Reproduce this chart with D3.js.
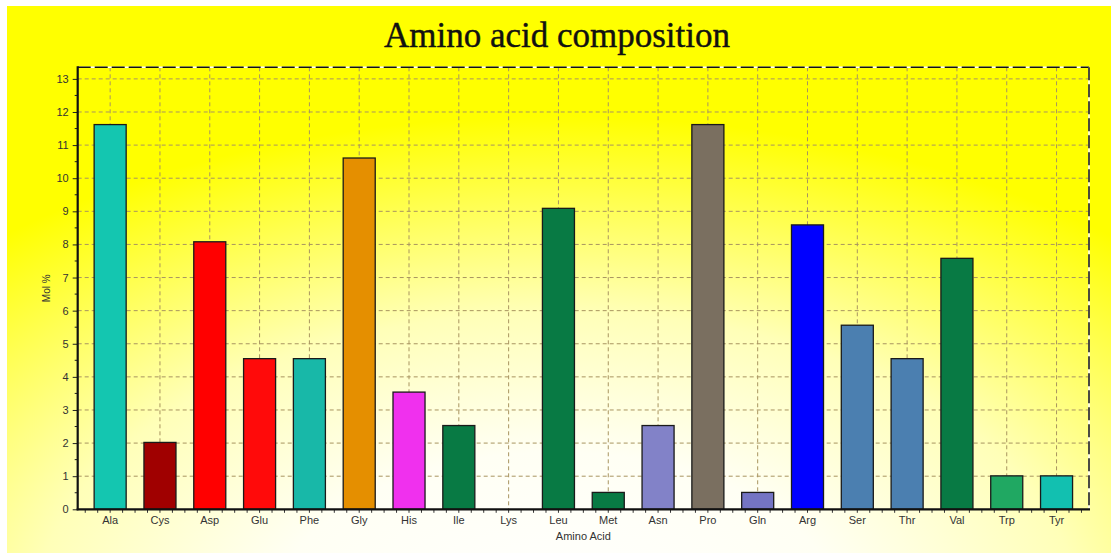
<!DOCTYPE html>
<html><head><meta charset="utf-8">
<script src="https://cdn.jsdelivr.net/npm/d3@7"></script>
<style>html,body{margin:0;padding:0;background:#fff;}svg{display:block;}</style>
</head><body>
<script>
// ---- data ----
const categories = ["Ala","Cys","Asp","Glu","Phe","Gly","His","Ile","Lys","Leu","Met","Asn","Pro","Gln","Arg","Ser","Thr","Val","Trp","Tyr"];
const molPercent = [11.62,2.02,8.08,4.55,4.55,10.61,3.54,2.53,0,9.09,0.51,2.53,11.62,0.51,8.59,5.56,4.55,7.58,1.01,1.01];
const yTickValues = [0,1,2,3,4,5,6,7,8,9,10,11,12,13];
const titleText = "Amino acid composition";
const xTitle = "Amino Acid";
const yTitle = "Mol %";
// ---- styles ----
const barColors = ["#14c6b0","#a00000","#ff0000","#ff0a0a","#18b8a8","#e58f00","#f030ee","#087a44","#087a44","#087a44","#087a44","#8282c8","#7a6f60","#7474c4","#0000ff","#4b7fb0","#4b7fb0","#087a44","#20a862","#12c0b0"];

const W = 1117, H = 559;
const svg = d3.select("body").append("svg").attr("width", W).attr("height", H);
const defs = svg.append("defs");
const grad = defs.append("radialGradient").attr("id","bg")
  .attr("gradientUnits","userSpaceOnUse")
  .attr("cx",557).attr("cy",620).attr("r",560)
  .attr("gradientTransform","translate(557,620) scale(1.7,1) translate(-557,-620)");
[[0,"#ffffff"],[0.3,"#fffff4"],[0.55,"#ffffb8"],[0.75,"#ffff50"],[0.9,"#ffff00"],[1,"#ffff00"]].forEach(s=>
  grad.append("stop").attr("offset",s[0]).attr("stop-color",s[1]));

svg.append("rect").attr("x",7).attr("y",6).attr("width",1104).attr("height",547).attr("fill","url(#bg)");

const L = 77.7, R = 1089, B = 509.3, T = 67.3;
const x = d3.scaleBand().domain(categories).range([L, R]).paddingInner(0.357).paddingOuter(0.33);
const y = d3.scaleLinear().domain([0, 13.35]).range([B, T]);
const step = x.step();

// grid
const g = svg.append("g");
g.selectAll(".hg").data(yTickValues.filter(d=>d>0)).enter().append("line")
  .attr("x1",L).attr("x2",R).attr("y1",d=>y(d)).attr("y2",d=>y(d))
  .attr("stroke","#a89460").attr("stroke-width",1).attr("stroke-dasharray","4,3");
g.selectAll(".vg").data(categories).enter().append("line")
  .attr("x1",d=>x(d)+x.bandwidth()/2).attr("x2",d=>x(d)+x.bandwidth()/2).attr("y1",T).attr("y2",B)
  .attr("stroke","#a89460").attr("stroke-width",1).attr("stroke-dasharray","4,3");

// bars
svg.selectAll(".bar").data(categories).enter().append("rect")
  .attr("x",d=>x(d)).attr("width",x.bandwidth())
  .attr("y",(d,i)=>y(molPercent[i])).attr("height",(d,i)=>B - y(molPercent[i]))
  .attr("fill",(d,i)=>barColors[i])
  .attr("stroke",(d,i)=>molPercent[i]>0?"#1a1a1a":"none").attr("stroke-width",1.3);

// frame top/right dashed
svg.append("line").attr("x1",L).attr("x2",R).attr("y1",T).attr("y2",T).attr("stroke","#fff").attr("stroke-width",1.5);
svg.append("line").attr("x1",L).attr("x2",R).attr("y1",T).attr("y2",T).attr("stroke","#111").attr("stroke-width",1.5).attr("stroke-dasharray","13,4");
svg.append("line").attr("x1",R).attr("x2",R).attr("y1",T).attr("y2",B).attr("stroke","#fff").attr("stroke-width",1.5);
svg.append("line").attr("x1",R).attr("x2",R).attr("y1",T).attr("y2",B).attr("stroke","#111").attr("stroke-width",1.5).attr("stroke-dasharray","13,4");

// y axis
const yAxis = d3.axisLeft(y).tickValues(yTickValues).tickSize(5).tickPadding(4).tickFormat(d3.format("d"));
const ya = svg.append("g").attr("transform",`translate(${L},0)`).call(yAxis);
ya.select(".domain").remove();
ya.selectAll("line").attr("stroke","#222");
ya.selectAll("text").attr("font-family","Liberation Sans, Arial, sans-serif").attr("font-size","11px").attr("fill","#333");
const minorY = d3.range(0, 13.5, 0.5).filter(v=>v%1!==0);
svg.selectAll(".my").data(minorY).enter().append("line")
  .attr("x1",L-3).attr("x2",L).attr("y1",d=>y(d)).attr("y2",d=>y(d)).attr("stroke","#222");
svg.append("line").attr("x1",L).attr("x2",L).attr("y1",T-1).attr("y2",B+1).attr("stroke","#111").attr("stroke-width",2.2);

// x axis
const xAxis = d3.axisBottom(x).tickSize(0).tickPadding(7);
const xa = svg.append("g").attr("transform",`translate(0,${B})`).call(xAxis);
xa.select(".domain").remove();
xa.selectAll("text").attr("font-family","Liberation Sans, Arial, sans-serif").attr("font-size","11px").attr("fill","#333");
const firstC = x(categories[0]) + x.bandwidth()/2;
const minorX = d3.range(-2, categories.length*4 + 2).map(k=>firstC + k*step/4).filter(v=>v>L+2 && v<R);
svg.selectAll(".mx").data(minorX).enter().append("line")
  .attr("x1",d=>d).attr("x2",d=>d).attr("y1",B).attr("y2",B+3.5).attr("stroke","#333");
svg.append("line").attr("x1",L-1).attr("x2",R+1).attr("y1",B).attr("y2",B).attr("stroke","#111").attr("stroke-width",2.2);

// titles
svg.append("text").attr("x",557).attr("y",47).attr("text-anchor","middle")
  .attr("font-family","Liberation Serif, Times New Roman, serif").attr("font-size","35px")
  .attr("fill","#111").attr("stroke","#111").attr("stroke-width",0.4).text(titleText);
svg.append("text").attr("x",(L+R)/2).attr("y",540).attr("text-anchor","middle")
  .attr("font-family","Liberation Sans, Arial, sans-serif").attr("font-size","11px").attr("fill","#333").text(xTitle);
svg.append("text").attr("transform",`translate(50,${(T+B)/2}) rotate(-90)`).attr("text-anchor","middle")
  .attr("font-family","Liberation Sans, Arial, sans-serif").attr("font-size","10px").attr("fill","#333").text(yTitle);
</script>
</body></html>
